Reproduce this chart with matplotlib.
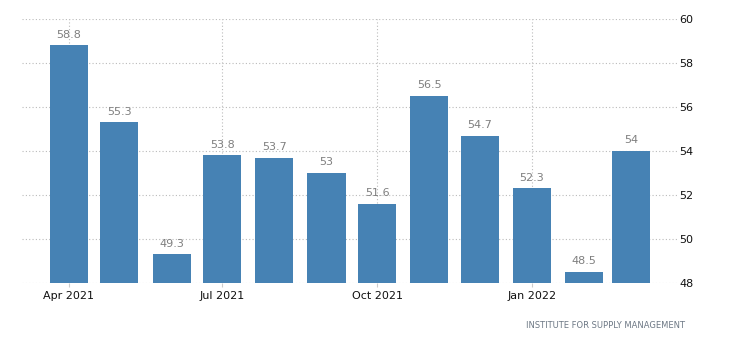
import matplotlib
matplotlib.use('Agg')
import matplotlib.pyplot as plt
import matplotlib.dates as mdates
import pandas as pd

# ISM readings, monthly
months = ['2021-04', '2021-05', '2021-06', '2021-07', '2021-08', '2021-09',
          '2021-10', '2021-11', '2021-12', '2022-01', '2022-02', '2022-03']
values = [58.8, 55.3, 49.3, 53.8, 53.7, 53, 51.6, 56.5, 54.7, 52.3, 48.5, 54]
labels = ['58.8', '55.3', '49.3', '53.8', '53.7', '53', '51.6', '56.5', '54.7', '52.3', '48.5', '54']
yticks = [48, 50, 52, 54, 56, 58, 60]

plt.rcParams['font.family'] = ['DejaVu Sans']

dates = pd.to_datetime(months)
x = mdates.date2num(dates)

fig = plt.figure(figsize=(7.31, 3.49), dpi=100)
ax = fig.add_axes([22 / 731, 66 / 349, 656 / 731, 264 / 349])

ax.bar(x, [v - 48 for v in values], bottom=48, width=22.6, color='#4682b4', zorder=2)

for xi, v, lab in zip(x, values, labels):
    ax.annotate(lab, (xi, v), xytext=(0, 4), textcoords='offset points',
                ha='center', va='bottom', fontsize=8, color='#7f7f7f')

ax.set_ylim(48, 60)
ax.set_xlim(x[0] - 27.9, x[0] + 361.8)

ax.yaxis.tick_right()
ax.set_yticks(yticks)
ax.tick_params(axis='y', length=0, pad=1, labelsize=8, labelcolor='#111111')

ax.xaxis.set_major_locator(mdates.MonthLocator(bymonth=[1, 4, 7, 10]))
ax.xaxis.set_major_formatter(mdates.DateFormatter('%b %Y'))
ax.tick_params(axis='x', length=3, width=0.8, color='#cccccc', pad=3,
               labelsize=8, labelcolor='#111111')

ax.grid(True, linestyle=(0, (1, 2)), color='#bbbbbb', linewidth=0.8, zorder=0)
ax.set_axisbelow(True)
for s in ax.spines.values():
    s.set_visible(False)

fig.text(685 / 731, 1 - 325 / 349, 'INSTITUTE FOR SUPPLY MANAGEMENT',
         ha='right', va='center', fontsize=6, color='#6d7885')

fig.savefig('out.png', dpi=100)
